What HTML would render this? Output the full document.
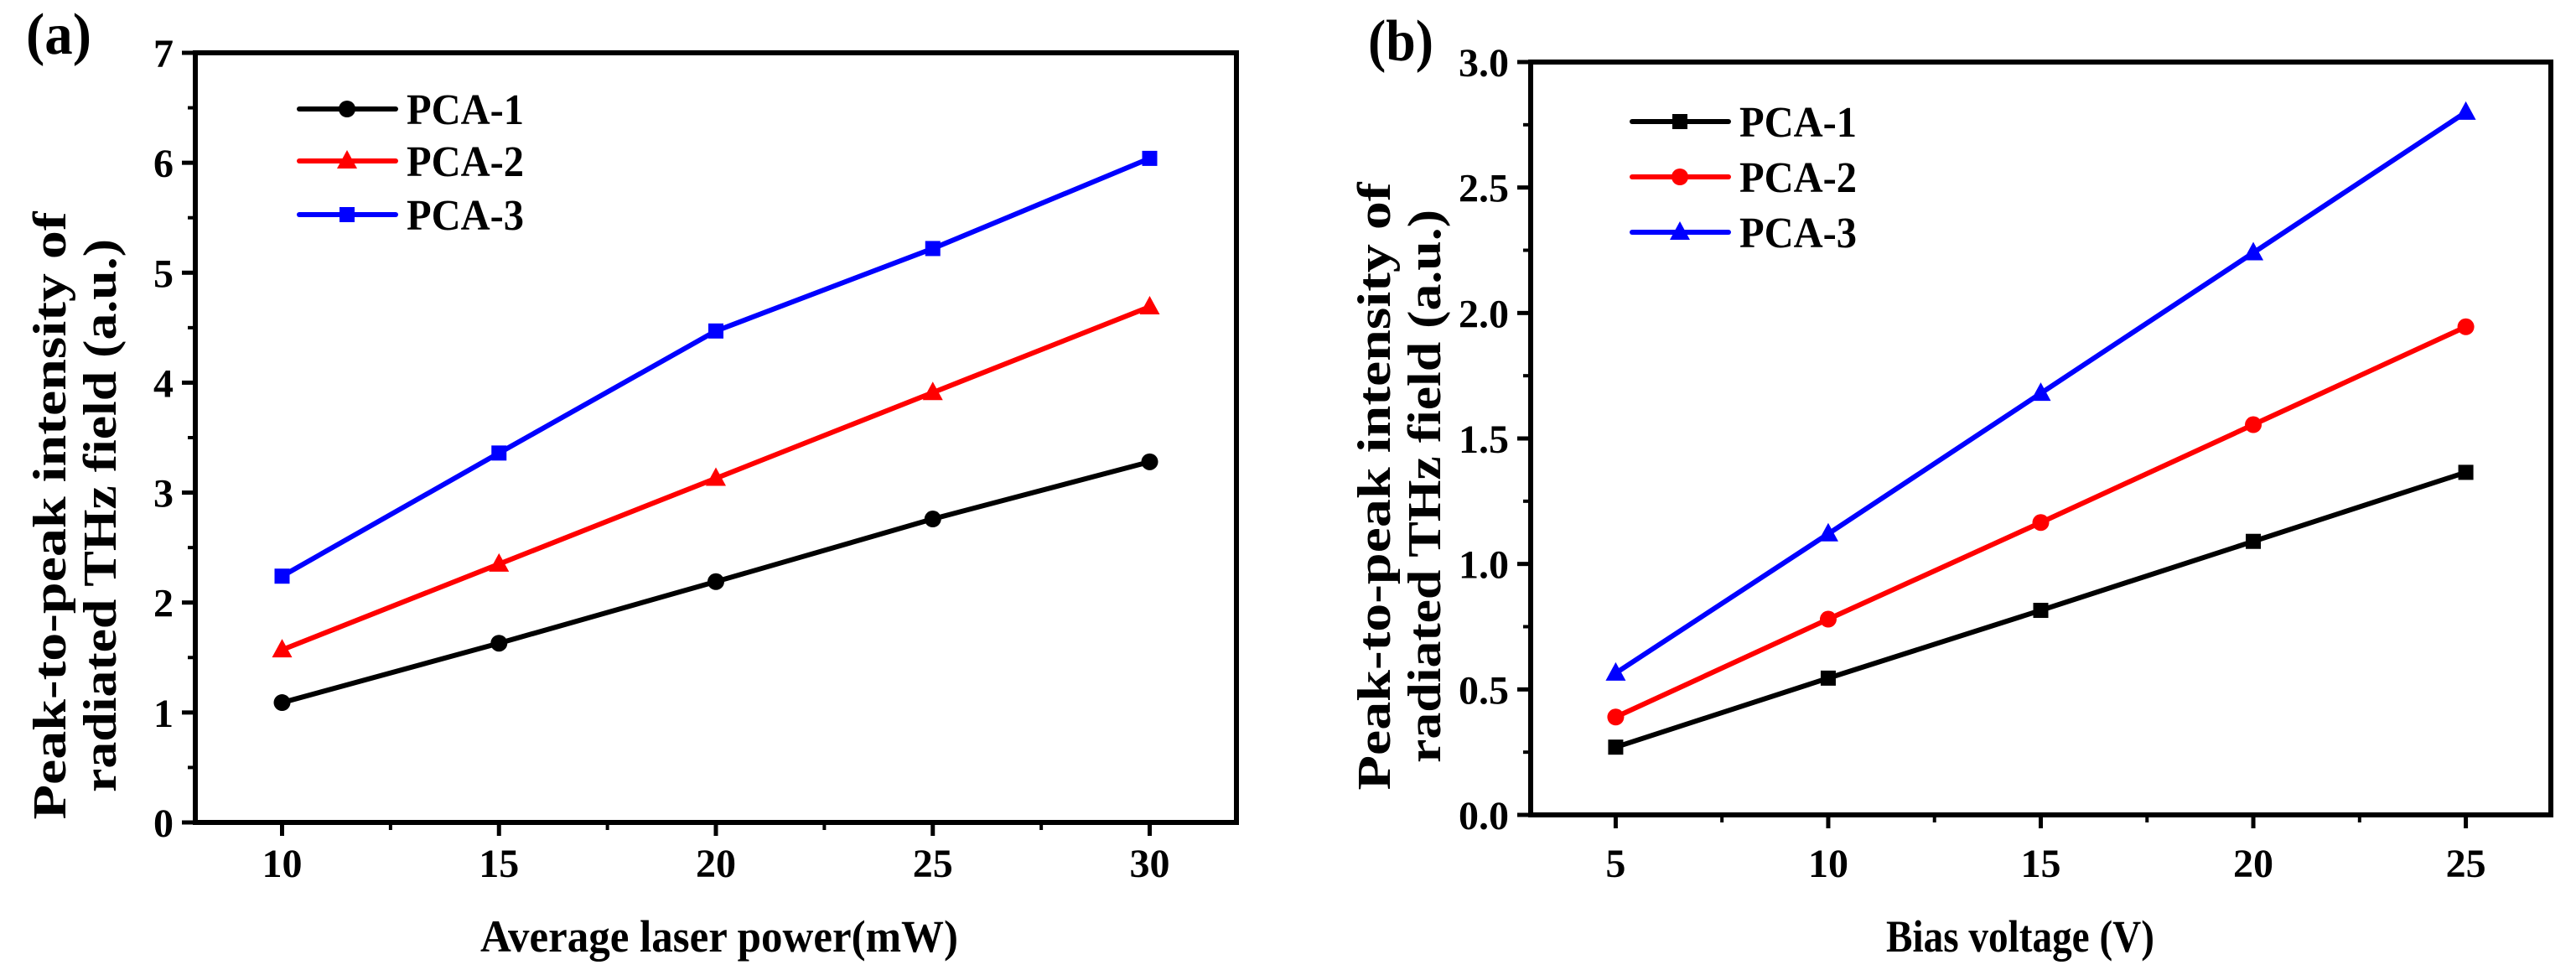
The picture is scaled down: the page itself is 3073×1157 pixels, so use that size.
<!DOCTYPE html>
<html><head><meta charset="utf-8"><style>
html,body{margin:0;padding:0;background:#fff;}
svg{display:block;font-family:"Liberation Serif",serif;font-weight:bold;}
</style></head><body>
<svg id="fig" width="3073" height="1157" viewBox="0 0 3073 1157" xmlns="http://www.w3.org/2000/svg">
<text x="31" y="64" font-size="70" textLength="78" lengthAdjust="spacingAndGlyphs">(a)</text>
<text x="1632" y="72" font-size="70" textLength="78" lengthAdjust="spacingAndGlyphs">(b)</text>
<g id="pa"></g>
<g id="pb"></g>
</svg>
<script>
const aX = [10, 15, 20, 25, 30];
const aPCA1 = [1.09, 1.63, 2.19, 2.76, 3.28];
const aPCA2 = [1.57, 2.35, 3.13, 3.91, 4.69];
const aPCA3 = [2.24, 3.36, 4.47, 5.22, 6.04];
const aXTicks = [10, 15, 20, 25, 30];
const aYTicks = [0, 1, 2, 3, 4, 5, 6, 7];
const bX = [5, 10, 15, 20, 25];
const bPCA1 = [0.27, 0.545, 0.815, 1.09, 1.365];
const bPCA2 = [0.39, 0.78, 1.165, 1.555, 1.945];
const bPCA3 = [0.565, 1.12, 1.68, 2.24, 2.80];
const bXTicks = [5, 10, 15, 20, 25];
const bYTicks = ['0.0', '0.5', '1.0', '1.5', '2.0', '2.5', '3.0'];
const seriesNames = ['PCA-1', 'PCA-2', 'PCA-3'];
const NS = 'http://www.w3.org/2000/svg';
function mk(tag, attrs, parent) {
  const e = document.createElementNS(NS, tag);
  for (const k in attrs) e.setAttribute(k, attrs[k]);
  parent.appendChild(e);
  return e;
}
function marker(shape, cx, cy, color, g) {
  let e;
  if (shape === 'circle') e = mk('circle', {cx: cx, cy: cy, r: 10, fill: color}, g);
  else if (shape === 'square') e = mk('rect', {x: cx - 9, y: cy - 9, width: 18, height: 18, fill: color}, g);
  else e = mk('polygon', {points: `${cx},${cy - 13} ${cx + 12},${cy + 9} ${cx - 12},${cy + 9}`, fill: color}, g);
  return e;
}
function chart(g, cfg) {
  const L = cfg.L, R = cfg.R, T = cfg.T, B = cfg.B;
  const sx = v => L + (v - cfg.xmin) / (cfg.xmax - cfg.xmin) * (R - L);
  const sy = v => B - (v - cfg.ymin) / (cfg.ymax - cfg.ymin) * (B - T);
  cfg.xTicks.forEach((t, i) => {
    const x = sx(t);
    const tk = mk('line', {x1: x, y1: B, x2: x, y2: B + 16, stroke: '#000', 'stroke-width': 5}, g);
    
    
    const lb = mk('text', {x: x, y: 1046, 'font-size': 48, 'text-anchor': 'middle'}, g);
    lb.textContent = t;
    
    
    if (i < cfg.xTicks.length - 1) {
      const xm = sx((t + cfg.xTicks[i + 1]) / 2);
      const mt = mk('line', {x1: xm, y1: B, x2: xm, y2: B + 9, stroke: '#000', 'stroke-width': 4}, g);
      
      
    }
  });
  cfg.yTicks.forEach((t, i) => {
    const v = parseFloat(t);
    const y = sy(v);
    const tk = mk('line', {x1: L - 16, y1: y, x2: L, y2: y, stroke: '#000', 'stroke-width': 5}, g);
    
    
    const lb = mk('text', {x: L - 26, y: y + 17, 'font-size': 48, 'text-anchor': 'end'}, g);
    lb.textContent = t;
    
    
    if (i < cfg.yTicks.length - 1) {
      const ym = sy((v + parseFloat(cfg.yTicks[i + 1])) / 2);
      const mt = mk('line', {x1: L - 9, y1: ym, x2: L, y2: ym, stroke: '#000', 'stroke-width': 4}, g);
      
      
    }
  });
  const frame = mk('rect', {x: L, y: T, width: R - L, height: B - T, fill: 'none', stroke: '#000', 'stroke-width': 6}, g);
  
  
  cfg.series.forEach((s, si) => {
    const sg = mk('g', {}, g);
    
    
    const pts = cfg.xs.map((xv, i) => sx(xv) + ',' + sy(s[i])).join(' ');
    const pl = mk('polyline', {points: pts, fill: 'none', stroke: cfg.colors[si], 'stroke-width': 6, 'stroke-linejoin': 'round'}, sg);
    
    
    cfg.xs.forEach((xv, i) => {
      const m = marker(cfg.shapes[si], sx(xv), sy(s[i]), cfg.colors[si], sg);
      
      
    });
    const ly = cfg.legY[si];
    const lg = mk('g', {}, g);
    
    
    mk('line', {x1: cfg.legX, y1: ly, x2: cfg.legX + 115, y2: ly, stroke: cfg.colors[si], 'stroke-width': 6, 'stroke-linecap': 'round'}, lg);
    marker(cfg.shapes[si], cfg.legX + 57, ly, cfg.colors[si], lg);
    const lt = mk('text', {x: cfg.legX + 128, y: ly + 18, 'font-size': 52, textLength: 140, lengthAdjust: 'spacingAndGlyphs'}, lg);
    lt.textContent = seriesNames[si];
  });
  const xt = mk('text', {x: cfg.xtX, y: 1135, 'font-size': 54, 'text-anchor': 'middle', textLength: cfg.xtLen, lengthAdjust: 'spacingAndGlyphs'}, g);
  xt.textContent = cfg.xTitle;
  
  
  const yt = mk('text', {transform: `translate(${cfg.ytX},${cfg.ytY}) rotate(-90)`, 'font-size': 56, 'text-anchor': 'middle'}, g);
  
  
  const t1 = mk('tspan', {x: 0, y: 0, textLength: 725, lengthAdjust: 'spacingAndGlyphs'}, yt); t1.textContent = 'Peak-to-peak intensity of';
  const t2 = mk('tspan', {x: 0, y: 60, textLength: 660, lengthAdjust: 'spacingAndGlyphs'}, yt); t2.textContent = 'radiated THz field (a.u.)';
}
chart(document.getElementById('pa'), {
  L: 233, R: 1475, T: 63, B: 981, xmin: 8, xmax: 32, ymin: 0, ymax: 7,
  xs: aX, series: [aPCA1, aPCA2, aPCA3], xTicks: aXTicks, yTicks: aYTicks.map(String),
  colors: ['#000', '#ff0000', '#0000ff'], shapes: ['circle', 'triangle', 'square'],
  legX: 357, legY: [130, 192, 256], xTitle: 'Average laser power(mW)', xtX: 858, xtLen: 570, ytX: 78, ytY: 615
});
chart(document.getElementById('pb'), {
  L: 1826, R: 3043, T: 74, B: 972, xmin: 3, xmax: 27, ymin: 0, ymax: 3,
  xs: bX, series: [bPCA1, bPCA2, bPCA3], xTicks: bXTicks, yTicks: bYTicks,
  colors: ['#000', '#ff0000', '#0000ff'], shapes: ['square', 'circle', 'triangle'],
  legX: 1947, legY: [145, 211, 277], xTitle: 'Bias voltage (V)', xtX: 2410, xtLen: 320, ytX: 1658, ytY: 580
});
</script>
</body></html>
